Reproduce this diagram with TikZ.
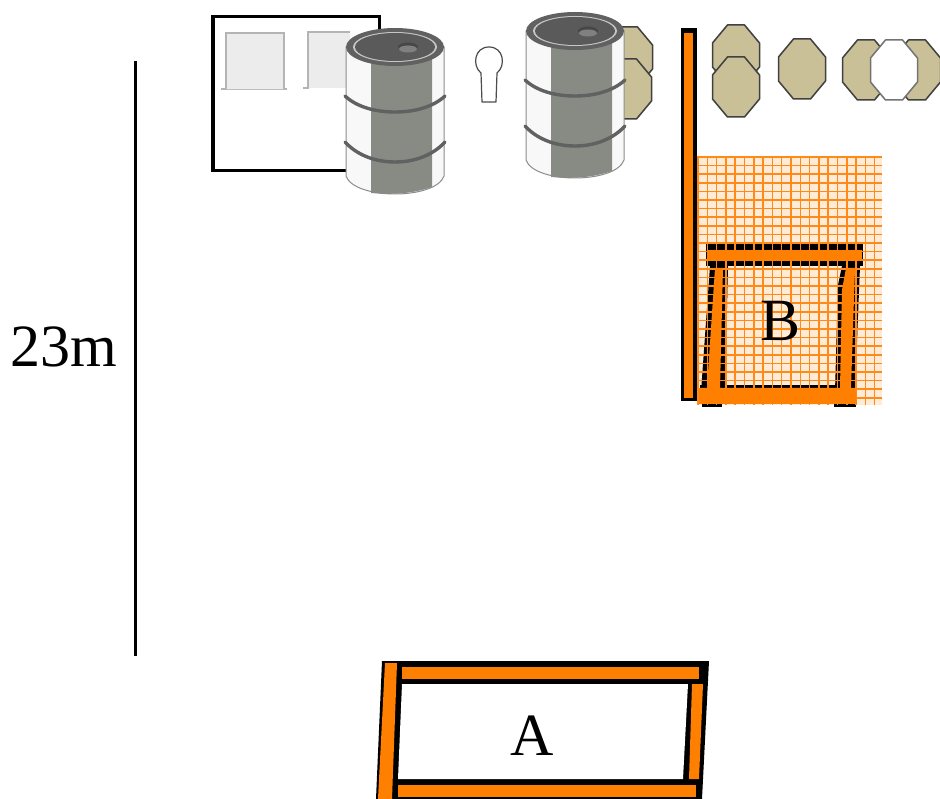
\documentclass[tikz,border=0pt]{standalone}
\usepackage{fontspec}
\setmainfont{Liberation Serif}
\definecolor{orangebar}{HTML}{FF8000}
\definecolor{meshline}{HTML}{FF8A1A}
\definecolor{beige}{HTML}{C9C098}
\definecolor{drumgray}{HTML}{888A84}
\definecolor{drumwhite}{HTML}{F8F8F8}
\definecolor{lid}{HTML}{5A5A5A}
\definecolor{winfill}{HTML}{ECECEC}
\definecolor{winedge}{HTML}{B4B4B4}
\tikzset{
  x=1pt,y=-1pt,
  bigtext/.style={inner sep=0pt,font=\fontsize{60}{72}\selectfont},
  octa/.style={draw=black!75,line width=1.5pt,fill=beige,line join=round},
  octw/.style={octa,fill=white,draw=black!55},
  orangefill/.style={fill=orangebar},
  blackfill/.style={fill=black},
  meshstroke/.style={draw=meshline,line width=1.5pt},
  drumband/.style={draw=black!62,line width=3.4pt,line cap=round},
  drumpic/.pic={
    \path[fill=drumwhite,draw=black!45,line width=1pt] (-49,0) -- (-49,129) .. controls (-45,141) and (-22,147) .. (0,147) .. controls (22,147) and (45,141) .. (49,129) -- (49,0) -- cycle;
    \path[fill=drumgray] (-24,10) -- (-24,146) .. controls (-5,147.5) and (15,147.5) .. (37,140) -- (37,10) -- cycle;
    \draw[drumband] (-50,49) .. controls (-38,60) and (-20,65) .. (0,65) .. controls (20,65) and (38,60) .. (50,49);
    \draw[drumband] (-50,95) .. controls (-38,108) and (-20,115) .. (0,115) .. controls (20,115) and (38,108) .. (50,95);
    \path[fill=black!62] (0,0) ellipse [x radius=49,y radius=19];
    \path[fill=black!22] (0,0) ellipse [x radius=42,y radius=15];
    \path[fill=lid] (0,0) ellipse [x radius=40,y radius=14];
    \path[fill=black!72] (13,0) ellipse [x radius=10,y radius=4.5];
    \path[fill=black!50] (13,2) ellipse [x radius=9,y radius=3.5];
  }
}
\newcommand{\octagon}[2]{% centre x, centre y ; 47 x 60
  \path[octa] (#1-8.5,#2-30) -- (#1+8.5,#2-30) -- (#1+23.5,#2-12) -- (#1+23.5,#2+12) -- (#1+8.5,#2+30) -- (#1-8.5,#2+30) -- (#1-23.5,#2+12) -- (#1-23.5,#2-12) -- cycle;}
\newcommand{\octagonw}[2]{%
  \path[octw] (#1-8.5,#2-30) -- (#1+8.5,#2-30) -- (#1+23.5,#2-12) -- (#1+23.5,#2+12) -- (#1+8.5,#2+30) -- (#1-8.5,#2+30) -- (#1-23.5,#2+12) -- (#1-23.5,#2-12) -- cycle;}
\begin{document}
\begin{tikzpicture}
\useasboundingbox (0,0) rectangle (940,799);
\fill[white] (0,0) rectangle (940,799);

% scale line and label
\coordinate (scaletop) at (135,61);
\coordinate (scalebot) at (135,656);
\draw[line width=3pt] (scaletop) -- (scalebot);
\node[bigtext,anchor=base] (lenlabel) at (64,367) {23m};

% building with windows
\draw[line width=2.4pt,fill=white] (212.5,16.5) rectangle (379.5,170.5);
\draw[line width=3.4pt] (213,16) -- (213,171);
\path[fill=winfill] (226,33) rectangle (284,89);
\draw[winedge,line width=1.3pt] (221,89) -- (226,89) -- (226,33) -- (284,33) -- (284,89) -- (287,89);
\draw[winfill!80!black,line width=.8pt] (226,89) -- (284,89);
\path[fill=winfill] (308,32) rectangle (350,88);
\draw[winedge,line width=1.3pt] (303,88) -- (308,88) -- (308,32) -- (350,32);

% octagons behind second drum
\octagon{629}{57}
\octagon{628}{89}

% keyhole
\draw[black!70,line width=1.2pt,fill=white,line join=round] (481,73) .. controls (472,66) and (474,47) .. (489,47) .. controls (504,47) and (506,66) .. (497,73) -- (496,102) -- (482,102) -- cycle;

% drums
\pic at (395,47) {drumpic};
\pic at (575,31) {drumpic};

% octagons on the right
\octagon{736}{55}
\octagon{736}{87}
\octagon{802}{69}
\octagon{866}{70}
\octagon{917}{70}
\octagonw{894}{70}

% mesh tint, then pallet B frame (below the mesh lines)
\path[fill=orangebar!16] (697,156) rectangle (882,405);
\path[blackfill] (706,243) rectangle (863,266);
\path[blackfill] (710,266) -- (728,266) -- (725,392) -- (701,392) -- cycle;
\path[blackfill] (842,266) -- (860,266) -- (855,392) -- (835,392) -- (838,285) -- cycle;
\path[blackfill] (700,385) rectangle (857,390);
\path[blackfill] (702,404) rectangle (722,407);
\path[blackfill] (834,404) rectangle (856,407);

% orange wire mesh
\foreach \mx in {698,707.3,...,882}{\draw[meshstroke] (\mx,156) -- (\mx,405);}
\foreach \my in {157,165.6,...,405}{\draw[meshstroke] (697,\my) -- (882,\my);}

% pallet B orange members (above the mesh)
\path[orangefill] (707,250) rectangle (862,261);
\path[orangefill] (715,268) -- (723,268) -- (720,388) -- (707,388) -- cycle;
\path[orangefill] (846,268) -- (855,268) -- (851,388) -- (840,388) -- (842,290) -- cycle;
\path[orangefill] (699,388) -- (855,388) -- (857,404) -- (699,404) -- cycle;
\node[bigtext,anchor=base] (labelB) at (781,341) {B};

% fence post
\path[blackfill] (680.5,28) rectangle (696.5,401);
\path[orangefill] (684,33) rectangle (693,398);

% pallet A
\path[blackfill] (382,661) -- (709,661) -- (702,799) -- (376,799) -- cycle;
\path[fill=white] (402,684) -- (688,684) -- (683,779) -- (398,779) -- cycle;
\path[orangefill] (385,663) -- (397,663) -- (392,799) -- (378,799) -- cycle;
\path[orangefill] (692,684) -- (703,684) -- (699,779) -- (689,779) -- cycle;
\path[orangefill] (402,667) rectangle (699,679);
\path[orangefill] (398,785) rectangle (696,797);
\node[bigtext,anchor=base] (labelA) at (532,755) {A};
\end{tikzpicture}
\end{document}
